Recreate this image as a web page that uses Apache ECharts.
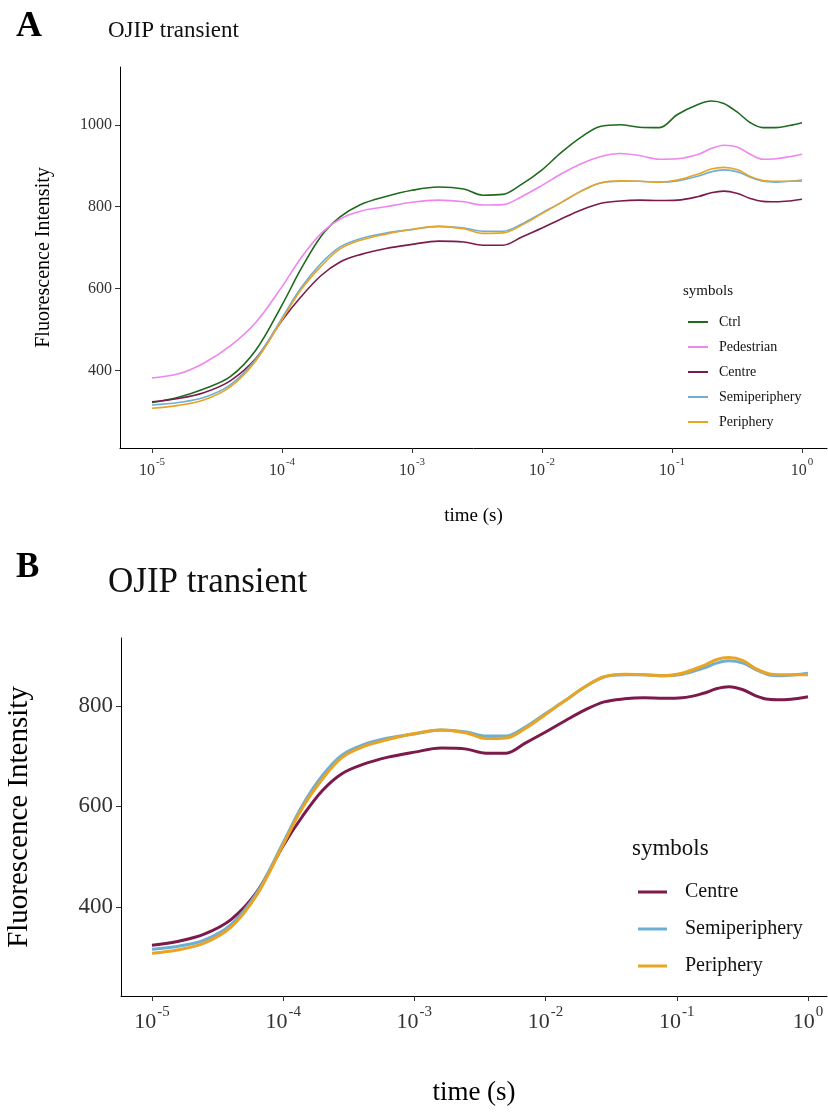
<!DOCTYPE html>
<html>
<head>
<meta charset="utf-8">
<script src="https://cdn.jsdelivr.net/npm/echarts@6/dist/echarts.min.js"></script>
<style>
  html, body { margin: 0; padding: 0; background: #fff; }
  #chart { width: 828px; height: 1112px; }
</style>
</head>
<body>
<div id="chart"></div>
<script>
// Sampling times of the OJIP fluorescence rise, in seconds
const timeSec = [
  1e-5, 1.6e-5, 2.5e-5, 4e-5, 6.3e-5,
  1e-4, 1.4e-4, 2e-4, 2.8e-4, 4e-4, 6.3e-4,
  1e-3, 1.6e-3, 2.5e-3, 3.5e-3, 5e-3, 7e-3,
  1e-2, 1.4e-2, 2e-2, 2.8e-2, 4e-2, 5.6e-2, 8e-2,
  0.11, 0.16, 0.2, 0.25, 0.32, 0.4, 0.5, 0.63, 0.8, 1.0
];

// Fluorescence intensity of each group at the times above
const ctrl = [322, 335, 355, 385, 450, 560, 648, 728, 775, 805, 825, 840, 848, 843, 828, 830, 855, 890, 932, 970, 996, 1000, 994, 993, 1025, 1050, 1058, 1052, 1030, 1005, 993, 993, 998, 1005];
const pedestrian = [382, 392, 418, 460, 518, 605, 675, 735, 770, 789, 800, 811, 816, 812, 804, 805, 825, 852, 880, 905, 922, 930, 925, 916, 917, 928, 942, 950, 945, 928, 916, 917, 922, 928];
const centre = [324, 332, 346, 375, 430, 522, 580, 632, 665, 683, 698, 708, 716, 714, 706, 706, 726, 748, 770, 792, 808, 814, 816, 815, 816, 825, 834, 838, 832, 820, 813, 812, 814, 818];
const semiperiphery = [316, 322, 334, 365, 428, 528, 602, 662, 702, 722, 736, 744, 752, 748, 740, 740, 758, 785, 810, 838, 858, 862, 862, 860, 863, 875, 885, 890, 885, 872, 862, 860, 862, 865];
const periphery = [308, 315, 328, 360, 424, 524, 597, 655, 697, 718, 733, 745, 752, 746, 735, 736, 755, 783, 810, 838, 858, 863, 862, 860, 865, 880, 892, 896, 890, 874, 864, 862, 862, 862];

// Axis ticks
const decadeTicks = [-5, -4, -3, -2, -1, 0];
const yTicksA = [400, 600, 800, 1000];
const yTicksB = [400, 600, 800];

const groupNamesA = ['Ctrl', 'Pedestrian', 'Centre', 'Semiperiphery', 'Periphery'];
const groupNamesB = ['Centre', 'Semiperiphery', 'Periphery'];

const colors = {
  Ctrl: '#1f6a1f',
  Pedestrian: '#ee86ee',
  Centre: '#7c1a4b',
  Semiperiphery: '#6eaed4',
  Periphery: '#e9a424'
};
const valuesByName = {
  Ctrl: ctrl,
  Pedestrian: pedestrian,
  Centre: centre,
  Semiperiphery: semiperiphery,
  Periphery: periphery
};

const serif = 'Liberation Serif, Times New Roman, serif';

function pairs(vals) {
  return timeSec.map((t, i) => [Math.log10(t), vals[i]]);
}

function decadeAxis(gridIndex, min, max, fs, supFs, margin, nameFs, nameGap) {
  return {
    type: 'value',
    gridIndex: gridIndex,
    min: min,
    max: max,
    name: 'time (s)',
    nameLocation: 'middle',
    nameGap: nameGap,
    nameTextStyle: { fontFamily: serif, fontSize: nameFs, color: '#000' },
    splitLine: { show: false },
    axisLine: { onZero: false, lineStyle: { color: '#000', width: 1 } },
    axisTick: { customValues: decadeTicks, length: 5, lineStyle: { color: '#333' } },
    axisLabel: {
      customValues: decadeTicks,
      margin: margin,
      formatter: v => '{b|10}{s|' + (Math.round(v) === 0 ? '0' : String(Math.round(v))) + '}',
      rich: {
        b: { fontFamily: serif, fontSize: fs, color: '#333', lineHeight: fs + 6, verticalAlign: 'bottom' },
        s: { fontFamily: serif, fontSize: supFs, color: '#333', lineHeight: fs + 6, verticalAlign: 'top', padding: [0, 0, fs * 0.55, 1] }
      }
    }
  };
}

function valueAxis(gridIndex, min, max, ticks, fs, nameFs, nameGap) {
  return {
    type: 'value',
    gridIndex: gridIndex,
    min: min,
    max: max,
    name: 'Fluorescence Intensity',
    nameLocation: 'middle',
    nameGap: nameGap,
    nameTextStyle: { fontFamily: serif, fontSize: nameFs, color: '#000' },
    splitLine: { show: false },
    axisLine: { show: true, onZero: false, lineStyle: { color: '#000', width: 1 } },
    axisTick: { show: true, customValues: ticks, length: 5, lineStyle: { color: '#333' } },
    axisLabel: { customValues: ticks, margin: 8, fontFamily: serif, fontSize: fs, color: '#333', formatter: v => String(v) }
  };
}

const series = [];
groupNamesA.forEach(n => {
  series.push({
    name: n, type: 'line', xAxisIndex: 0, yAxisIndex: 0,
    data: pairs(valuesByName[n]), smooth: 0.35, symbol: 'none',
    lineStyle: { color: colors[n], width: 1.6 }, itemStyle: { color: colors[n] }
  });
});
groupNamesB.forEach(n => {
  series.push({
    name: n, type: 'line', xAxisIndex: 1, yAxisIndex: 1,
    data: pairs(valuesByName[n]), smooth: 0.35, symbol: 'none',
    lineStyle: { color: colors[n], width: 3 }, itemStyle: { color: colors[n] }
  });
});

const option = {
  animation: false,
  backgroundColor: '#fff',
  title: [
    { text: 'A', left: 11, top: 4, textStyle: { fontFamily: serif, fontSize: 36, fontWeight: 'bold', color: '#000' } },
    { text: 'OJIP transient', left: 103, top: 14, textStyle: { fontFamily: serif, fontSize: 23, fontWeight: 'normal', color: '#111' } },
    { text: 'symbols', left: 678, top: 279, textStyle: { fontFamily: serif, fontSize: 15, fontWeight: 'normal', color: '#111' } },
    { text: 'B', left: 11, top: 545, textStyle: { fontFamily: serif, fontSize: 35, fontWeight: 'bold', color: '#000' } },
    { text: 'OJIP transient', left: 103, top: 560, textStyle: { fontFamily: serif, fontSize: 35, fontWeight: 'normal', color: '#111' } },
    { text: 'symbols', left: 627, top: 832, textStyle: { fontFamily: serif, fontSize: 23, fontWeight: 'normal', color: '#111' } }
  ],
  legend: [
    {
      data: groupNamesA, orient: 'vertical', left: 683, top: 309,
      icon: 'rect', itemWidth: 20, itemHeight: 2, itemGap: 9,
      textStyle: { fontFamily: serif, fontSize: 14, color: '#111', lineHeight: 16, padding: [0, 0, 0, 6] },
      selectedMode: false
    },
    {
      data: groupNamesB, orient: 'vertical', left: 633, top: 875,
      icon: 'rect', itemWidth: 29, itemHeight: 3, itemGap: 13,
      textStyle: { fontFamily: serif, fontSize: 20, color: '#111', lineHeight: 24, padding: [0, 0, 0, 13] },
      selectedMode: false
    }
  ],
  grid: [
    { left: 120, top: 67, width: 707, height: 381, outerBoundsMode: 'none', containLabel: false },
    { left: 121, top: 638, width: 706, height: 358, outerBoundsMode: 'none', containLabel: false }
  ],
  xAxis: [
    decadeAxis(0, -5.246, 0.192, 16, 11, 9, 19, 59),
    decadeAxis(1, -5.236, 0.145, 22, 15, 9, 27, 83)
  ],
  yAxis: [
    valueAxis(0, 211, 1141, yTicksA, 16, 20, 66),
    valueAxis(1, 223, 935, yTicksB, 23, 29, 87)
  ],
  series: series
};

const chart = echarts.init(document.getElementById('chart'), null, { renderer: 'canvas' });
chart.setOption(option);
</script>
</body>
</html>
